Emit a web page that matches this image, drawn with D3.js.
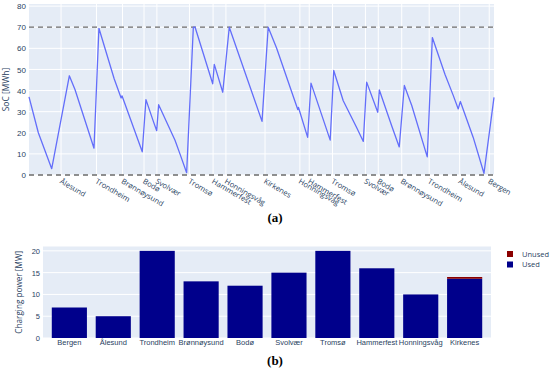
<!DOCTYPE html>
<html>
<head>
<meta charset="utf-8">
<script src="https://cdn.jsdelivr.net/npm/d3@7"></script>
<style>
  body { margin: 0; background: #fff; }
  svg { display: block; font-family: "Open Sans", sans-serif; }
  .tick text { fill: #2a3f5f; }
</style>
</head>
<body>
<svg id="chart" width="550" height="371"></svg>
<script>
// (a) state of charge over the round trip, hours from Bergen
const socTime = [0, 5.3, 12.9, 22.9, 26.1, 36.9, 39.7, 48.4, 52.3, 52.8, 64.3, 66.4, 70.6, 72.5, 73.6,
  82.9, 85.7, 89.5, 93.3, 94.3, 104.3, 105.2, 110.0, 113.7, 132.3, 135.8, 140.6, 152.6, 153.0, 158.2,
  160.1, 171.0, 173.0, 178.4, 186.0, 189.8, 191.7, 198.0, 198.9, 205.9, 210.2, 213.1, 217.3, 226.1,
  229.0, 236.2, 240.9, 243.7, 244.9, 252.2, 258.3, 264];
const socValue = [37, 20, 3, 47, 40.5, 12.7, 69.5, 45.5, 36.5, 37.5, 11, 35.7, 25.4, 21, 33.3,
  16.5, 10, 1.1, 70, 70, 43.2, 52.4, 39.2, 70, 25.4, 70, 60, 31, 32, 17.8,
  43.5, 16.5, 49.5, 35.2, 22.5, 15.9, 44, 29.7, 40.3, 23.3, 13.3, 42.4, 32.9, 8.6,
  65.1, 47.6, 37.6, 31.3, 34.8, 17.8, 0.8, 36.8];
const portTime = [18.2, 38.3, 53.1, 65.3, 72.6, 91.1, 104.5, 111.8, 134, 153.8, 159.1, 172.3,
  191, 198.3, 211.6, 227.2, 244.5, 261.3];
const portName = ["Ålesund", "Trondheim", "Brønnøysund", "Bodø", "Svolvær", "Tromsø", "Hammerfest",
  "Honningsvåg", "Kirkenes", "Honningsvåg", "Hammerfest", "Tromsø", "Svolvær", "Bodø",
  "Brønnøysund", "Trondheim", "Ålesund", "Bergen"];
const socLimits = [0, 70];
const socTicks = [0, 10, 20, 30, 40, 50, 60, 70, 80];

// (b) charging power per port
const cities = ["Bergen", "Ålesund", "Trondheim", "Brønnøysund", "Bodø", "Svolvær", "Tromsø",
  "Hammerfest", "Honningsvåg", "Kirkenes"];
const used = [7, 5, 20, 13, 12, 15, 20, 16, 10, 13.6];
const unused = [0, 0, 0, 0, 0, 0, 0, 0, 0, 0.4];
const powerTicks = [0, 5, 10, 15, 20];

const svg = d3.select("#chart");
const bg = "#e5ecf6", ink = "#2a3f5f";

// ---------- top chart ----------
const boxA = {x0: 29, x1: 494, y0: 175, y1: 4};
const x = d3.scaleLinear().domain([0, 264]).range([boxA.x0, boxA.x1]);
const y = d3.scaleLinear().domain([0, 81]).range([boxA.y0, boxA.y1]);

const gA = svg.append("g");
gA.append("rect")
  .attr("x", boxA.x0).attr("y", boxA.y1)
  .attr("width", boxA.x1 - boxA.x0).attr("height", boxA.y0 - boxA.y1)
  .attr("fill", bg);

gA.append("g").selectAll("line")
  .data(socTicks).enter().append("line")
  .attr("x1", boxA.x0).attr("x2", boxA.x1)
  .attr("y1", d => y(d)).attr("y2", d => y(d))
  .attr("stroke", "#fff").attr("stroke-width", 1);

gA.append("g").selectAll("line")
  .data(portTime).enter().append("line")
  .attr("x1", d => x(d)).attr("x2", d => x(d))
  .attr("y1", boxA.y0).attr("y2", boxA.y1)
  .attr("stroke", "#fff").attr("stroke-width", 1);

gA.append("g").selectAll("line")
  .data(socLimits).enter().append("line")
  .attr("x1", boxA.x0).attr("x2", boxA.x1)
  .attr("y1", d => y(d)).attr("y2", d => y(d))
  .attr("stroke", "#6b6b6b").attr("stroke-width", 1.3)
  .attr("stroke-dasharray", "5,4");

const line = d3.line()
  .x((d, i) => x(socTime[i]))
  .y(d => y(d));
gA.append("path")
  .datum(socValue)
  .attr("d", line)
  .attr("fill", "none")
  .attr("stroke", "#636efa")
  .attr("stroke-width", 1.3)
  .attr("stroke-linejoin", "round");

const yAxisA = gA.append("g")
  .attr("transform", `translate(${boxA.x0},0)`)
  .call(d3.axisLeft(y).tickValues(socTicks).tickSize(0).tickPadding(3));
yAxisA.select(".domain").remove();
yAxisA.selectAll("text").attr("font-size", 8);

gA.append("g").selectAll("text")
  .data(portTime).enter().append("text")
  .attr("transform", d => `translate(${x(d) + 1},${boxA.y0 + 3}) rotate(30)`)
  .attr("dy", "0.75em")
  .attr("font-size", 7.5)
  .attr("fill", ink)
  .text((d, i) => portName[i]);

gA.append("text")
  .attr("transform", `translate(9,${(boxA.y0 + boxA.y1) / 2}) rotate(-90)`)
  .attr("text-anchor", "middle")
  .attr("font-size", 8.5)
  .attr("fill", ink)
  .text("SoC [MWh]");

svg.append("text")
  .attr("x", 275).attr("y", 222)
  .attr("text-anchor", "middle")
  .attr("font-family", "Liberation Serif, serif")
  .attr("font-weight", "bold")
  .attr("font-size", 13)
  .text("(a)");

// ---------- bottom chart ----------
const boxB = {x0: 43, x1: 491, y0: 338, y1: 246.5};
const xb = d3.scaleBand().domain(cities).range([boxB.x0, boxB.x1]).padding(0.2);
const yb = d3.scaleLinear().domain([0, 21]).range([boxB.y0, boxB.y1]);

const gB = svg.append("g");
gB.append("rect")
  .attr("x", boxB.x0).attr("y", boxB.y1)
  .attr("width", boxB.x1 - boxB.x0).attr("height", boxB.y0 - boxB.y1)
  .attr("fill", bg);

gB.append("g").selectAll("line")
  .data(powerTicks).enter().append("line")
  .attr("x1", boxB.x0).attr("x2", boxB.x1)
  .attr("y1", d => yb(d)).attr("y2", d => yb(d))
  .attr("stroke", "#fff").attr("stroke-width", 1);

gB.append("g").selectAll("rect")
  .data(cities).enter().append("rect")
  .attr("x", d => xb(d))
  .attr("width", xb.bandwidth())
  .attr("y", (d, i) => yb(used[i]))
  .attr("height", (d, i) => yb(0) - yb(used[i]))
  .attr("fill", "#00008b");

gB.append("g").selectAll("rect")
  .data(cities).enter().append("rect")
  .attr("x", d => xb(d))
  .attr("width", xb.bandwidth())
  .attr("y", (d, i) => yb(used[i] + unused[i]))
  .attr("height", (d, i) => yb(used[i]) - yb(used[i] + unused[i]))
  .attr("fill", "#8b0000");

const yAxisB = gB.append("g")
  .attr("transform", `translate(${boxB.x0},0)`)
  .call(d3.axisLeft(yb).tickValues(powerTicks).tickSize(0).tickPadding(3));
yAxisB.select(".domain").remove();
yAxisB.selectAll("text").attr("font-size", 7.5);

const xAxisB = gB.append("g")
  .attr("transform", `translate(0,${boxB.y0})`)
  .call(d3.axisBottom(xb).tickSize(0).tickPadding(2));
xAxisB.select(".domain").remove();
xAxisB.selectAll("text").attr("font-size", 7.5);

gB.append("text")
  .attr("transform", `translate(22,${(boxB.y0 + boxB.y1) / 2}) rotate(-90)`)
  .attr("text-anchor", "middle")
  .attr("font-size", 8.2)
  .attr("fill", ink)
  .text("Charging power [MW]");

const legend = gB.append("g").attr("transform", "translate(507,251)");
[["Unused", "#8b0000"], ["Used", "#00008b"]].forEach(([name, color], i) => {
  legend.append("rect")
    .attr("x", 0).attr("y", i * 10.5)
    .attr("width", 6).attr("height", 6)
    .attr("fill", color);
  legend.append("text")
    .attr("x", 15).attr("y", i * 10.5 + 3)
    .attr("dy", "0.35em")
    .attr("font-size", 7.5)
    .attr("fill", ink)
    .text(name);
});

svg.append("text")
  .attr("x", 275).attr("y", 365)
  .attr("text-anchor", "middle")
  .attr("font-family", "Liberation Serif, serif")
  .attr("font-weight", "bold")
  .attr("font-size", 13)
  .text("(b)");
</script>
</body>
</html>
